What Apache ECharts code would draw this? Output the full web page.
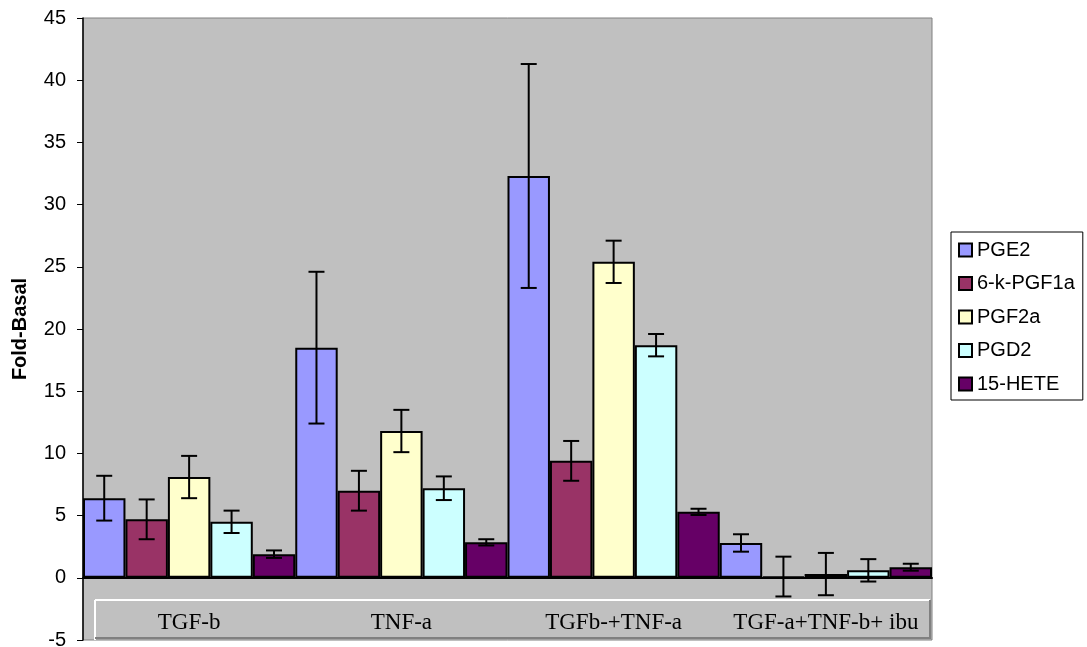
<!DOCTYPE html>
<html>
<head>
<meta charset="utf-8">
<script src="https://cdn.jsdelivr.net/npm/echarts@6/dist/echarts.min.js"></script>
<style>html,body{margin:0;padding:0;background:#fff}#c{width:1087px;height:647px}</style>
</head>
<body>
<div id="c"></div>
<script>
const categories = ['TGF-b', 'TNF-a', 'TGFb-+TNF-a', 'TGF-a+TNF-b+ ibu'];
const seriesNames = ['PGE2', '6-k-PGF1a', 'PGF2a', 'PGD2', '15-HETE'];
const valPGE2   = [6.4, 18.5, 32.3, 2.8];
const valPGF1a  = [4.7, 7.0, 9.4, 0.1];
const valPGF2a  = [8.1, 11.8, 25.4, 0.3];
const valPGD2   = [4.5, 7.2, 18.7, 0.6];
const valHETE   = [1.9, 2.85, 5.3, 0.85];
const errPGE2   = [1.8, 6.1, 9.0, 0.7];
const errPGF1a  = [1.6, 1.6, 1.6, 1.6];
const errPGF2a  = [1.7, 1.7, 1.7, 1.7];
const errPGD2   = [0.9, 0.95, 0.9, 0.9];
const errHETE   = [0.3, 0.25, 0.25, 0.28];
const yTicks = [-5, 0, 5, 10, 15, 20, 25, 30, 35, 40, 45];

const colors = ['#9999FF', '#993366', '#FFFFCC', '#CCFFFF', '#660066'];
const allVals = [valPGE2, valPGF1a, valPGF2a, valPGD2, valHETE];
const allErrs = [errPGE2, errPGF1a, errPGF2a, errPGD2, errHETE];

const chart = echarts.init(document.getElementById('c'), null, {renderer: 'canvas'});

function errRender(sIdx) {
  return function (params, api) {
    const i = api.value(0), v = api.value(1), e = api.value(2);
    const base = api.coord([i, v]);
    const bw = api.size([1, 0])[0] / seriesNames.length;
    const x = base[0] + (sIdx - (seriesNames.length - 1) / 2) * bw;
    const yt = api.coord([i, v + e])[1];
    const yb = api.coord([i, v - e])[1];
    const cap = 8;
    const st = {stroke: '#000', lineWidth: 2};
    return {type: 'group', children: [
      {type: 'line', shape: {x1: x, y1: yt, x2: x, y2: yb}, style: st},
      {type: 'line', shape: {x1: x - cap, y1: yt, x2: x + cap, y2: yt}, style: st},
      {type: 'line', shape: {x1: x - cap, y1: yb, x2: x + cap, y2: yb}, style: st}
    ]};
  };
}

const series = [];
seriesNames.forEach((n, s) => {
  series.push({
    name: n, type: 'bar', data: allVals[s], xAxisIndex: 0,
    barGap: '0%', barCategoryGap: '0%',
    itemStyle: {color: colors[s], borderColor: '#000', borderWidth: 2},
    emphasis: {disabled: true}, z: 2
  });
});
seriesNames.forEach((n, s) => {
  series.push({
    name: n + '_err', type: 'custom', renderItem: errRender(s), xAxisIndex: 0,
    data: categories.map((c, i) => [i, allVals[s][i], allErrs[s][i]]),
    encode: {x: 0, y: 1}, z: 5, silent: true
  });
});

chart.setOption({
  animation: false,
  grid: {left: 83, right: 155, top: 18, bottom: 7, show: true, outerBoundsMode: 'none',
         backgroundColor: '#C0C0C0', borderColor: '#808080', borderWidth: 1, containLabel: false},
  xAxis: [{
    type: 'category', data: categories,
    axisLine: {onZero: true, lineStyle: {color: '#000', width: 2}},
    axisTick: {show: false},
    axisLabel: {show: false}
  }, {
    type: 'category', data: categories, position: 'bottom',
    axisLine: {show: false, onZero: false},
    axisTick: {show: false},
    axisLabel: {show: true, inside: true, interval: 0, margin: 6, verticalAlign: 'bottom',
                color: '#000', fontFamily: 'Liberation Serif', fontSize: 23}
  }],
  yAxis: {
    type: 'value', min: yTicks[0], max: yTicks[yTicks.length - 1], interval: 5,
    name: 'Fold-Basal', nameLocation: 'middle', nameGap: 53,
    nameTextStyle: {fontFamily: 'Liberation Sans', fontWeight: 'bold', fontSize: 20, color: '#000'},
    axisLine: {show: true, onZero: false, lineStyle: {color: '#000', width: 1.5}},
    axisTick: {show: true, length: 6, lineStyle: {color: '#000'}},
    splitLine: {show: false},
    axisLabel: {color: '#000', fontFamily: 'Liberation Sans', fontSize: 20, margin: 17}
  },
  legend: {
    data: seriesNames, orient: 'vertical', left: 951, top: 232,
    itemWidth: 13, itemHeight: 13, itemGap: 13.5,
    backgroundColor: '#fff', borderColor: '#000', borderWidth: 1,
    padding: [8, 8, 6, 7],
    textStyle: {fontFamily: 'Liberation Sans', fontSize: 20, color: '#000'},
    icon: 'rect', selectedMode: false
  },
  graphic: [
    {type: 'line', shape: {x1: 95, y1: 600, x2: 930, y2: 600}, style: {stroke: '#fff', lineWidth: 2}, z: 10},
    {type: 'line', shape: {x1: 95, y1: 600, x2: 95, y2: 640}, style: {stroke: '#fff', lineWidth: 2}, z: 10},
    {type: 'line', shape: {x1: 95, y1: 638, x2: 930, y2: 638}, style: {stroke: '#808080', lineWidth: 2}, z: 10},
    {type: 'line', shape: {x1: 930, y1: 600, x2: 930, y2: 639}, style: {stroke: '#808080', lineWidth: 2}, z: 10}
  ],
  series: series
});
</script>
</body>
</html>
